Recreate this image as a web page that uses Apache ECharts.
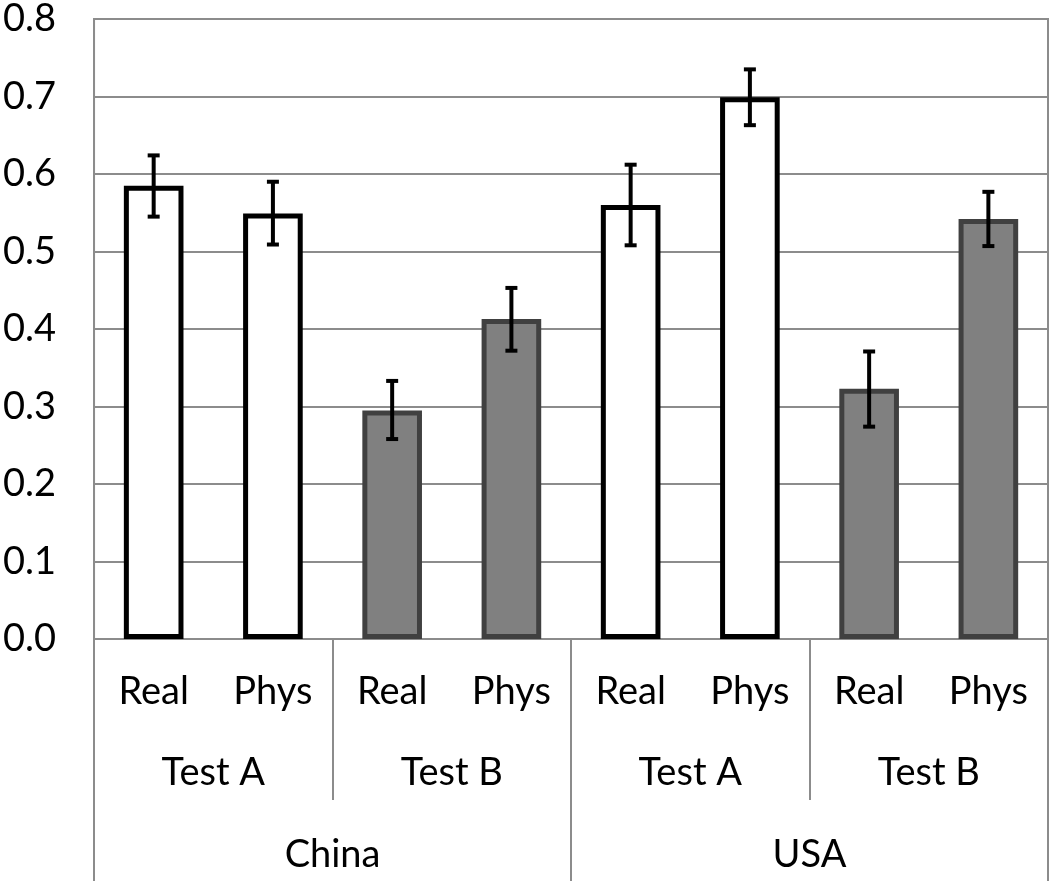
<!DOCTYPE html>
<html>
<head>
<meta charset="utf-8">
<script src="https://cdn.jsdelivr.net/npm/echarts@6/dist/echarts.min.js"></script>
<style>
html,body{margin:0;padding:0;background:#fff;}
#chart{width:1050px;height:881px;}
</style>
</head>
<body>
<div id="chart"></div>
<script>
// ---- data ----
const conditions = ['Real','Phys','Real','Phys','Real','Phys','Real','Phys'];
const tests = ['Test A','Test B','Test A','Test B'];
const countries = ['China','USA'];
const barTest = ['Test A','Test A','Test B','Test B','Test A','Test A','Test B','Test B'];
const means = [0.585, 0.549, 0.295, 0.413, 0.560, 0.699, 0.323, 0.542];
const errLow = [0.545, 0.509, 0.258, 0.372, 0.508, 0.663, 0.274, 0.507];
const errHigh = [0.624, 0.590, 0.333, 0.453, 0.612, 0.735, 0.371, 0.577];
const yTicks = [0, 0.1, 0.2, 0.3, 0.4, 0.5, 0.6, 0.7, 0.8];

const FONT = 'Lato';
const FS = 38;
const GRID_GRAY = '#8c8c8c';

const chart = echarts.init(document.getElementById('chart'), null, {renderer:'canvas'});

const barData = means.map((v, i) => ({
  value: v,
  itemStyle: barTest[i] === 'Test A'
    ? {color:'#ffffff', borderColor:'#000000', borderWidth:5}
    : {color:'#808080', borderColor:'#404040', borderWidth:5}
}));
const errData = means.map((v, i) => [i, v, errLow[i], errHigh[i]]);

const option = {
  animation: false,
  backgroundColor: '#ffffff',
  grid: {left:93, right:2, top:15, bottom:242, show:true, borderColor:GRID_GRAY, borderWidth:2, backgroundColor:'transparent'},
  xAxis: [
    {
      type:'category', data: conditions, gridIndex:0, position:'bottom',
      axisLine:{show:true, lineStyle:{color:GRID_GRAY, width:2}},
      axisTick:{show:false},
      axisLabel:{show:true, interval:0, margin:34, color:'#000', fontFamily:FONT, fontSize:FS, verticalAlign:'top'}
    },
    {
      type:'category', data: tests, gridIndex:0, position:'bottom',
      axisLine:{show:false},
      axisTick:{show:true, interval:0, length:161, lineStyle:{color:GRID_GRAY, width:2}},
      axisLabel:{show:true, interval:0, margin:115, color:'#000', fontFamily:FONT, fontSize:FS, verticalAlign:'top'}
    },
    {
      type:'category', data: countries, gridIndex:0, position:'bottom',
      axisLine:{show:false},
      axisTick:{show:true, interval:0, length:242, lineStyle:{color:GRID_GRAY, width:2}},
      axisLabel:{show:true, interval:0, margin:197, color:'#000', fontFamily:FONT, fontSize:FS, verticalAlign:'top'}
    }
  ],
  yAxis: {
    type:'value', min: yTicks[0], max: yTicks[yTicks.length-1], interval: 0.1,
    axisLine:{show:true, lineStyle:{color:GRID_GRAY, width:2}},
    axisTick:{show:false},
    splitLine:{show:true, lineStyle:{color:GRID_GRAY, width:2}},
    axisLabel:{margin:38, color:'#000', fontFamily:FONT, fontSize:FS, formatter: v => v.toFixed(1)}
  },
  series: [
    {
      type:'bar', xAxisIndex:0, data: barData, barWidth:'50%', z:2
    },
    {
      type:'custom', xAxisIndex:0, z:5, data: errData,
      encode:{x:0, y:[1,2,3]},
      renderItem: function(params, api){
        const x = api.value(0);
        const top = api.coord([x, api.value(3)]);
        const bot = api.coord([x, api.value(2)]);
        const hw = 6;
        const st = {stroke:'#000', lineWidth:4};
        return {type:'group', children:[
          {type:'line', shape:{x1:top[0], y1:top[1], x2:bot[0], y2:bot[1]}, style:st},
          {type:'line', shape:{x1:top[0]-hw, y1:top[1], x2:top[0]+hw, y2:top[1]}, style:st},
          {type:'line', shape:{x1:bot[0]-hw, y1:bot[1], x2:bot[0]+hw, y2:bot[1]}, style:st}
        ]};
      }
    }
  ]
};
chart.setOption(option);
</script>
</body>
</html>
